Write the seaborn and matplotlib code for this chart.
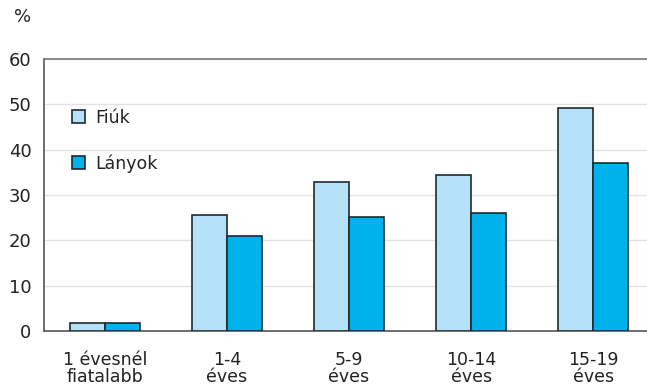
import matplotlib
matplotlib.use("Agg")
import matplotlib.pyplot as plt
from matplotlib.patches import Patch
from matplotlib.ticker import MultipleLocator, FixedLocator
import seaborn as sns
import pandas as pd

# Age groups and share (%) for boys and girls
categories = ["1 évesnél\nfiatalabb", "1-4\néves", "5-9\néves", "10-14\néves", "15-19\néves"]
fiuk = [1.8, 25.6, 32.9, 34.4, 49.2]
lanyok = [1.8, 21.0, 25.2, 26.0, 37.1]
series = ["Fiúk", "Lányok"]
colors = ["#b5e2f8", "#00b2ec"]

df = pd.DataFrame({
    "kat": categories * 2,
    "ertek": fiuk + lanyok,
    "nem": [series[0]] * len(categories) + [series[1]] * len(categories),
})

sns.set_style("white")
plt.rcParams["font.family"] = ["DejaVu Sans"]

fig = plt.figure(figsize=(6.47, 3.90), dpi=100)
ax = fig.add_axes([0.068, 0.151, 0.943, 0.698])

sns.barplot(data=df, x="kat", y="ertek", hue="nem", palette=colors,
            width=0.57, gap=0, edgecolor="#1e2a30", linewidth=1.2,
            saturation=1, ax=ax, legend=False, zorder=3)

ax.set_ylim(0, 60)
ax.set_xlim(-0.5, len(categories) - 0.5)
ax.yaxis.set_major_locator(MultipleLocator(10))
ax.grid(axis="y", color="#e3e3e3", linewidth=1, zorder=0)
ax.set_axisbelow(True)

# category boundaries get the visible x ticks
ax.xaxis.set_minor_locator(FixedLocator([i + 0.5 for i in range(-1, len(categories))]))
ax.tick_params(axis="x", which="major", length=0, pad=14, labelsize=12.5, labelcolor="#222222")
ax.tick_params(axis="x", which="minor", length=5, width=1, color="#777777", direction="out")
ax.tick_params(axis="y", length=5, width=1, color="#777777", direction="out",
               labelsize=13, labelcolor="#222222", pad=4)
for lbl in ax.get_xticklabels():
    lbl.set_linespacing(0.95)
ax.set_xlabel("")
ax.set_ylabel("")

for side in ["left", "bottom", "top"]:
    ax.spines[side].set_visible(True)
    ax.spines[side].set_color("#555555")
    ax.spines[side].set_linewidth(1.2)
ax.spines["top"].set_color("#777777")
ax.spines["right"].set_visible(False)

fig.text(0.022, 0.957, "%", fontsize=13, color="#222222", ha="left", va="center")

handles = [Patch(facecolor=c, edgecolor="#1e2a30", linewidth=1.2) for c in colors]
ax.legend(handles, series, loc="upper left", bbox_to_anchor=(0.02, 0.875),
          frameon=False, fontsize=12.5, labelspacing=1.6, handlelength=0.75,
          handleheight=0.75, handletextpad=0.6, labelcolor="#222222")

fig.savefig("out.png", dpi=100)
